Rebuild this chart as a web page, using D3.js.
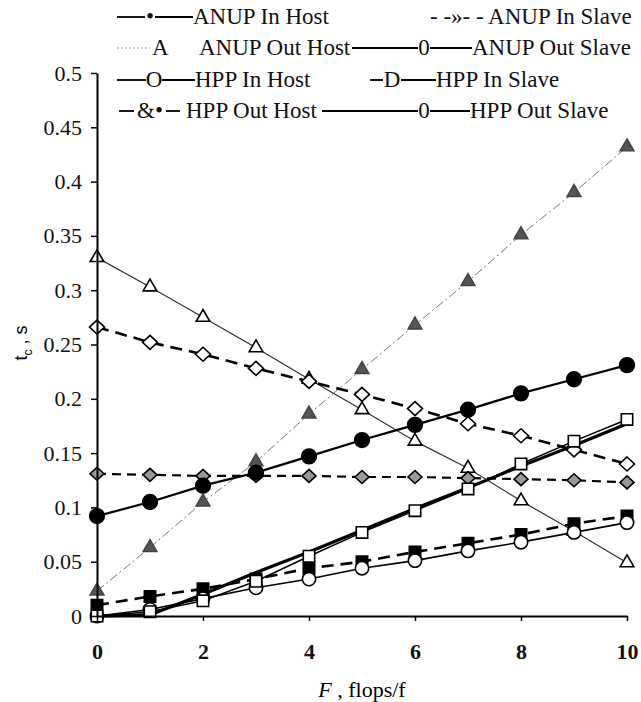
<!DOCTYPE html>
<html>
<head>
<meta charset="utf-8">
<script src="https://cdn.jsdelivr.net/npm/d3@7"></script>
</head>
<body style="margin:0; background:#fff">
<svg id="chart" width="641" height="702"></svg>
<script>
// x values (F, flops/f) and y tick values
var flops = [0, 1, 2, 3, 4, 5, 6, 7, 8, 9, 10];
var xTicks = [0, 2, 4, 6, 8, 10];
var yTicks = [0, 0.05, 0.1, 0.15, 0.2, 0.25, 0.3, 0.35, 0.4, 0.45, 0.5];

// t_c, s
var anupInHost   = [0.092, 0.105, 0.120, 0.132, 0.147, 0.162, 0.176, 0.190, 0.205, 0.218, 0.231];
var anupInSlave  = [0.266, 0.252, 0.241, 0.228, 0.216, 0.204, 0.191, 0.177, 0.166, 0.153, 0.140];
var anupOutHost  = [0.023, 0.063, 0.105, 0.142, 0.186, 0.227, 0.268, 0.308, 0.351, 0.390, 0.432];
var anupOutSlave = [0.330, 0.303, 0.275, 0.247, 0.218, 0.190, 0.161, 0.136, 0.106, 0.078, 0.049];
var hppInHost    = [0.000, 0.006, 0.016, 0.026, 0.034, 0.044, 0.051, 0.060, 0.068, 0.077, 0.086];
var hppInSlave   = [0.000, 0.004, 0.014, 0.032, 0.055, 0.077, 0.097, 0.117, 0.140, 0.161, 0.181];
var hppOutHost   = [0.010, 0.018, 0.025, 0.034, 0.044, 0.050, 0.059, 0.067, 0.075, 0.085, 0.092];
var hppOutSlave  = [0.131, 0.130, 0.129, 0.129, 0.129, 0.128, 0.128, 0.127, 0.126, 0.125, 0.123];
var hppSlaveFit  = [0.000, 0.001, 0.020, 0.040, 0.059, 0.079, 0.099, 0.118, 0.138, 0.157, 0.177];

var serif = "Liberation Serif";
var svg = d3.select("#chart");

var x = d3.scaleLinear().domain([0, 10]).range([97, 627]);
var y = d3.scaleLinear().domain([0, 0.5]).range([616, 73]);

// marker paths
function diamond(w, h) {
    return "M0," + (-h) + "L" + w + ",0L0," + h + "L" + (-w) + ",0Z";
}
var circ = d3.symbol().type(d3.symbolCircle);
var tri = d3.symbol().type(d3.symbolTriangle).size(80);
var sq = d3.symbol().type(d3.symbolSquare).size(130);

var series = [
    {vals: hppSlaveFit, stroke: "#000", width: 3.2, dash: null, marker: null},
    {vals: anupOutHost, stroke: "#777", width: 1, dash: "9,3,2,3", marker: tri(), fill: "#555", mstroke: "#444"},
    {vals: anupOutSlave, stroke: "#333", width: 1.2, dash: null, marker: tri(), fill: "#fff", mstroke: "#000"},
    {vals: hppOutSlave, stroke: "#000", width: 2.2, dash: "9,6", marker: diamond(7, 6.5), fill: "#999", mstroke: "#000"},
    {vals: anupInSlave, stroke: "#000", width: 2.6, dash: "12,7", marker: diamond(7.5, 7), fill: "#fff", mstroke: "#000"},
    {vals: hppOutHost, stroke: "#000", width: 2.6, dash: "12,7", marker: sq(), fill: "#000", mstroke: "#000"},
    {vals: hppInHost, stroke: "#000", width: 1.6, dash: null, marker: circ.size(140)(), fill: "#fff", mstroke: "#000"},
    {vals: hppInSlave, stroke: "#000", width: 1.5, dash: null, marker: sq(), fill: "#fff", mstroke: "#000"},
    {vals: anupInHost, stroke: "#000", width: 2.2, dash: null, marker: circ.size(170)(), fill: "#000", mstroke: "#000"}
];

var line = d3.line()
    .x(function(d, i) { return x(flops[i]); })
    .y(function(d) { return y(d); });

series.forEach(function(s) {
    svg.append("path")
        .datum(s.vals)
        .attr("fill", "none")
        .attr("stroke", s.stroke)
        .attr("stroke-width", s.width)
        .attr("stroke-dasharray", s.dash)
        .attr("d", line);
    if (s.marker) {
        svg.append("g").selectAll("path")
            .data(s.vals)
            .enter().append("path")
            .attr("transform", function(d, i) { return "translate(" + x(flops[i]) + "," + y(d) + ")"; })
            .attr("d", s.marker)
            .attr("fill", s.fill)
            .attr("stroke", s.mstroke)
            .attr("stroke-width", 1.6);
    }
});

// axes
var yAxis = svg.append("g")
    .attr("transform", "translate(97,0)")
    .call(d3.axisLeft(y).tickValues(yTicks).tickSize(6).tickSizeOuter(0).tickPadding(9)
        .tickFormat(function(d) { return d3.format("~g")(d); }));

var xAxis = svg.append("g")
    .attr("transform", "translate(0,616)")
    .call(d3.axisBottom(x).tickValues(xTicks).tickSize(5).tickSizeOuter(0).tickPadding(22));

yAxis.attr("font-family", serif).attr("font-size", 22);
xAxis.attr("font-family", serif).attr("font-size", 22).attr("font-weight", "bold");
svg.selectAll(".domain").attr("stroke", "#000").attr("stroke-width", 2);
svg.selectAll(".tick line").attr("stroke", "#000").attr("stroke-width", 1.5);
svg.selectAll(".tick text").attr("fill", "#111");

// axis titles
var xt = svg.append("text")
    .attr("x", 362).attr("y", 697)
    .attr("text-anchor", "middle")
    .attr("font-family", serif)
    .attr("font-size", 22);
xt.append("tspan").attr("font-style", "italic").text("F");
xt.append("tspan").text("  , flops/f");

var yt = svg.append("text")
    .attr("transform", "translate(27,343) rotate(-90)")
    .attr("text-anchor", "middle")
    .attr("font-family", "Liberation Sans")
    .attr("font-size", 18);
yt.append("tspan").text("t");
yt.append("tspan").attr("dy", 5).attr("font-size", 12).text("c");
yt.append("tspan").attr("dy", -5).text(" , s");

// legend (glyphs as in the original)
var lg = svg.append("g").attr("font-family", serif).attr("font-size", 23).attr("fill", "#111");
function seg(x1, x2, yy, dash, col, w) {
    lg.append("line").attr("x1", x1).attr("x2", x2).attr("y1", yy).attr("y2", yy)
        .attr("stroke", col || "#000").attr("stroke-width", w || 1.8)
        .attr("stroke-dasharray", dash || null);
}
function label(tx, yy, str, anchor) {
    lg.append("text").attr("x", tx).attr("y", yy + 7)
        .attr("text-anchor", anchor || "start").text(str);
}
var r1 = 17, r2 = 48, r3 = 80, r4 = 111;
seg(117, 145, r1); label(150, r1, "•", "middle"); seg(155, 193, r1); label(193, r1, "ANUP In Host");
label(430, r1, "- -»- - ANUP  In Slave");
seg(117, 150, r2, "2,2", "#999", 1); label(152, r2, "A"); label(199, r2, "ANUP Out Host");
seg(352, 418, r2); label(424, r2, "0", "middle"); seg(430, 472, r2); label(472, r2, "ANUP Out Slave");
seg(117, 146, r3); label(154, r3, "O", "middle"); seg(162, 195, r3); label(195, r3, "HPP In Host");
seg(370, 383, r3); label(392, r3, "D", "middle"); seg(401, 436, r3); label(436, r3, "HPP In Slave");
seg(119, 134, r4); label(150, r4, "&•", "middle"); seg(166, 180, r4); label(186, r4, "HPP  Out  Host");
seg(322, 418, r4); label(424, r4, "0", "middle"); seg(430, 470, r4); label(470, r4, "HPP Out Slave");
</script>
</body>
</html>
